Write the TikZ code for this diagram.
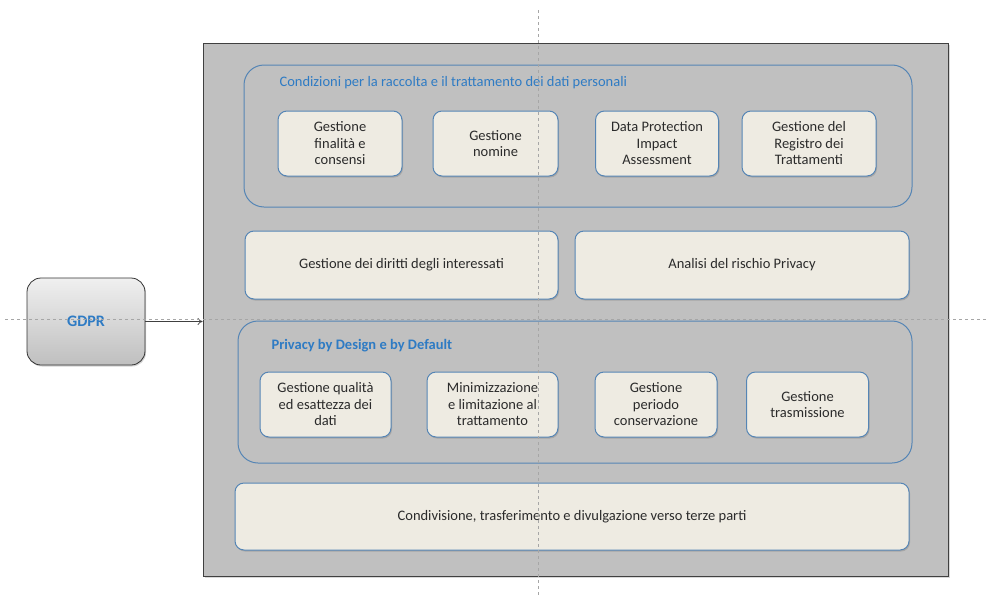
\documentclass[tikz,border=0pt]{standalone}
\usepackage{fontspec}
\setmainfont{Carlito}
\usetikzlibrary{shadows,arrows.meta}

\definecolor{panelgray}{HTML}{C0C0C0}
\definecolor{boxcream}{HTML}{EEEBE2}
\definecolor{edgeblue}{HTML}{5585B5}
\definecolor{titleblue}{HTML}{2E7BC4}
\definecolor{textdark}{HTML}{2B2B2B}

\begin{document}
\begin{tikzpicture}[x=1pt,y=-1pt,
  every node/.style={font=\fontsize{14.5}{16.5}\selectfont, text=textdark},
  group/.style={draw=edgeblue, line width=1pt, fill=panelgray, rounded corners=20pt},
  item/.style={draw=edgeblue, line width=1pt, fill=boxcream, rounded corners=9pt, align=center,
    drop shadow={shadow xshift=1pt, shadow yshift=-1.5pt, opacity=0.4}},
  title/.style={anchor=west, text=titleblue},
  guide/.style={gray!70, dashed, line width=0.5pt}]
\useasboundingbox (0,0) rectangle (987,597);

\node[draw=black!75, line width=0.8pt, fill=panelgray, minimum width=745pt, minimum height=533pt,
  drop shadow={shadow xshift=1.5pt, shadow yshift=-1.5pt, opacity=0.3}] (panel) at (575.5,309.5) {};

\node[draw=black!80, line width=0.8pt, rounded corners=14pt, top color=gray!12, bottom color=gray!50,
  minimum width=118pt, minimum height=87pt, text=titleblue, font=\fontsize{16}{18}\selectfont\bfseries,
  drop shadow={shadow xshift=1pt, shadow yshift=-1.5pt, opacity=0.35}] (gdpr) at (86,321.5) {GDPR};
\draw[-{To[length=5pt,width=7pt]}, black!75, line width=0.7pt] (gdpr.east) -- (gdpr.east -| panel.west);

% condizioni
\node[group, minimum width=668pt, minimum height=142pt] (conditions) at (578,136) {};
\node[title] (condtitle) at (276,83) {Condizioni per la raccolta e il trattamento dei dati personali};
\node[item, minimum width=124pt, minimum height=65pt] (finalita) at (340,143.5) {Gestione\\finalità e\\consensi};
\node[item, minimum width=125pt, minimum height=65pt] (nomine) at (495.5,143.5) {Gestione\\nomine};
\node[item, minimum width=123pt, minimum height=65pt] (dpia) at (657,143.5) {Data Protection\\Impact\\Assessment};
\node[item, minimum width=134pt, minimum height=65pt] (registro) at (809,143.5) {Gestione del\\Registro dei\\Trattamenti};

\node[item, minimum width=313pt, minimum height=68pt] (diritti) at (401.5,265) {Gestione dei diritti degli interessati};
\node[item, minimum width=334pt, minimum height=68pt] (rischio) at (742,265) {Analisi del rischio Privacy};

% privacy by design
\node[group, minimum width=674pt, minimum height=142pt] (pbd) at (575,392) {};
\node[title, font=\fontsize{14.5}{16.5}\selectfont\bfseries] (pbdtitle) at (268,346) {Privacy by Design e by Default};
\node[item, minimum width=131pt, minimum height=65pt] (qualita) at (325.5,404.5) {Gestione qualità\\ed esattezza dei\\dati};
\node[item, minimum width=131pt, minimum height=65pt] (minim) at (492.5,404.5) {Minimizzazione\\e limitazione al\\trattamento};
\node[item, minimum width=122pt, minimum height=65pt] (periodo) at (656,404.5) {Gestione\\periodo\\conservazione};
\node[item, minimum width=122pt, minimum height=65pt] (trasm) at (807.5,404.5) {Gestione\\trasmissione};

\node[item, minimum width=674pt, minimum height=67pt] (terze) at (572,516.5) {Condivisione, trasferimento e divulgazione verso terze parti};

\draw[guide] (538,10) -- (538,597);
\draw[guide] (5,319) -- (987,319);
\end{tikzpicture}
\end{document}
